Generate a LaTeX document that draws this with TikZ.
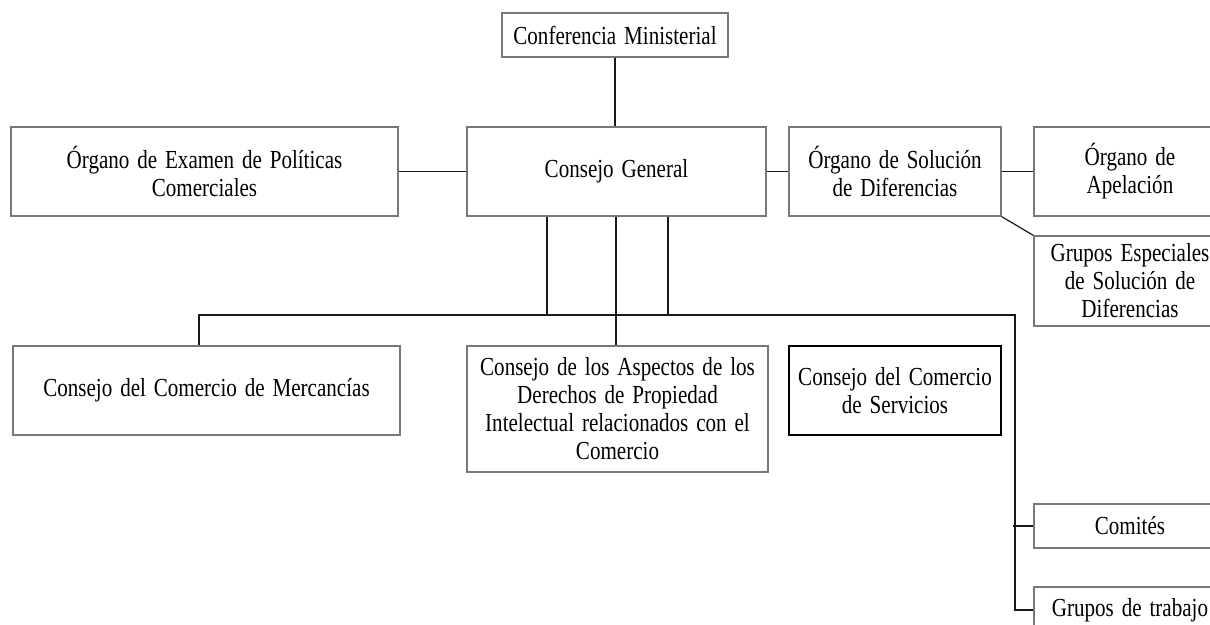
\documentclass[tikz,border=0pt]{standalone}
\usepackage{fontspec}
\setmainfont{Liberation Serif}[FakeStretch=0.81, WordSpace=1.5]
\usetikzlibrary{calc}
\definecolor{boxgray}{RGB}{120,120,120}
\definecolor{linec}{RGB}{25,25,25}
\tikzset{
  orgbox/.style={draw=boxgray, line width=1.2pt, align=center, inner sep=0pt,
    font=\fontsize{26}{28}\selectfont},
  conn/.style={draw=linec, line width=1.2pt},
}
\begin{document}
\begin{tikzpicture}[x=1pt,y=-1pt]
\useasboundingbox (0,0) rectangle (1210,624);
\clip (0,0) rectangle (1210,624);
\fill[white] (0,0) rectangle (1210,624);

\node[orgbox, minimum width=226pt, minimum height=44pt] (conf) at (615,35) {Conferencia Ministerial};
\node[orgbox, minimum width=299pt, minimum height=89pt] (gen) at (616.5,171.5) {Consejo General};
\node[orgbox, minimum width=387pt, minimum height=89pt] (exam) at (204.5,171.5) {Órgano de Examen de Políticas\\Comerciales};
\node[orgbox, minimum width=212pt, minimum height=89pt] (sol) at (895,171.5) {Órgano de Solución\\de Diferencias};
\node[orgbox, minimum width=192pt, minimum height=89pt] (apel) at (1130,171.5) {Órgano de\\Apelación};
\node[orgbox, minimum width=192pt, minimum height=90pt] (esp) at (1130,281) {Grupos Especiales\\de Solución de\\Diferencias};
\node[orgbox, minimum width=387pt, minimum height=89pt] (merc) at (206.5,390.5) {Consejo del Comercio de Mercancías};
\node[orgbox, minimum width=301pt, minimum height=126pt] (trips) at (617.5,409) {Consejo de los Aspectos de los\\Derechos de Propiedad\\Intelectual relacionados con el\\Comercio};
\node[orgbox, draw=black, minimum width=212pt, minimum height=89pt] (serv) at (895,390.5) {Consejo del Comercio\\de Servicios};
\node[orgbox, minimum width=192pt, minimum height=44pt] (com) at (1130,526) {Comités};
\node[orgbox, minimum width=192pt, minimum height=46pt] (trab) at (1130,610) {Grupos de trabajo};

\coordinate (busL) at (199,315);
\coordinate (busR) at (1015,315);

\draw[conn] (conf.south) -- (conf.south |- gen.north);
\draw[conn] (exam.east) -- (gen.west);
\draw[conn] (gen.east) -- (sol.west);
\draw[conn] (sol.east) -- (apel.west);
\draw[conn] (sol.south east) -- (esp.north west);

\draw[conn] ([xshift=-69.5pt]gen.south) -- ([xshift=-69.5pt]gen.south |- busL);
\draw[conn] ([xshift=-0.5pt]gen.south) -- ([xshift=-0.5pt]gen.south |- trips.north);
\draw[conn] ([xshift=51.5pt]gen.south) -- ([xshift=51.5pt]gen.south |- busL);

\draw[conn] (busL |- merc.north) -- (busL) -- (busR) -- (busR |- trab.west) -- (trab.west);
\draw[conn] ([xshift=-2pt]busR |- com.west) -- (com.west);
\end{tikzpicture}
\end{document}
